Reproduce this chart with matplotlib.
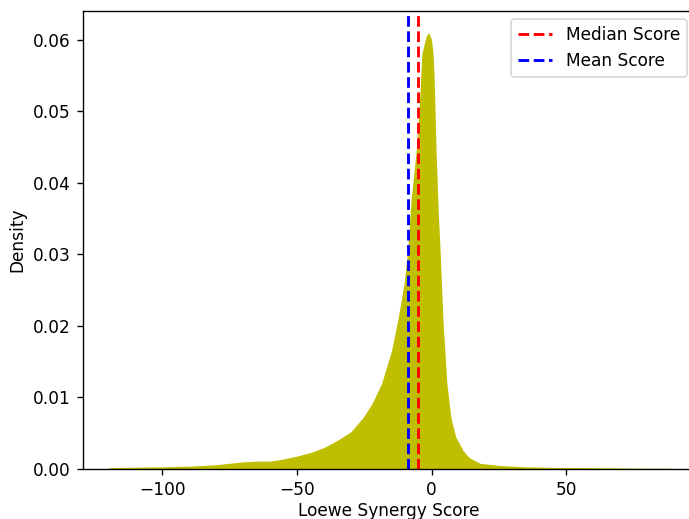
import matplotlib
matplotlib.use('Agg')
from matplotlib import pyplot as plt
import numpy as np

# density curve (score, density)
score = [-120, -110, -100, -90, -80, -75, -70, -65, -60, -55, -50, -45, -40, -35,
         -30, -25.4, -22, -18.5, -14.8, -12.4, -10.2, -8.9, -7.5, -5.7, -4.5, -3.6,
         -2, -1, 0, 0.6, 1, 1.7, 2.5, 3.2, 4.2, 5.7, 7.2, 9, 11.7, 14, 18, 25, 35,
         50, 70, 89]
density = [0.0002, 0.00025, 0.0003, 0.0004, 0.0006, 0.0008, 0.0010, 0.0011, 0.0011,
           0.0014, 0.0018, 0.0023, 0.0030, 0.0040, 0.0052, 0.0072, 0.0092, 0.0120,
           0.0166, 0.0211, 0.0259, 0.0305, 0.0380, 0.0444, 0.0510, 0.0580, 0.0605,
           0.0610, 0.0600, 0.0580, 0.0545, 0.0444, 0.0360, 0.0305, 0.0211, 0.0120,
           0.0072, 0.0045, 0.0026, 0.0016, 0.0008, 0.0005, 0.0003, 0.0002, 0.00015,
           0.0001]
median_score = -4.9
mean_score = -8.9

dpi = 122
fig = plt.figure(figsize=(689 / dpi, 519 / dpi), dpi=dpi)
ax = fig.add_axes([82.7 / 689, 50 / 519, (695 - 82.7) / 689, (469 - 10.7) / 519])

ax.fill_between(score, density, color='#bfbf00', linewidth=0)
ax.axvline(median_score, color='r', linestyle='--', linewidth=1.7, label='Median Score')
ax.axvline(mean_score, color='b', linestyle='--', linewidth=1.7, label='Mean Score')
ax.set_xlim(-129.6, 97.9)
ax.set_ylim(bottom=0)

ax.set_xlabel('Loewe Synergy Score', labelpad=2)
ax.set_ylabel('Density')
ax.legend(loc='upper right')

fig.savefig('out.png', dpi=dpi)
